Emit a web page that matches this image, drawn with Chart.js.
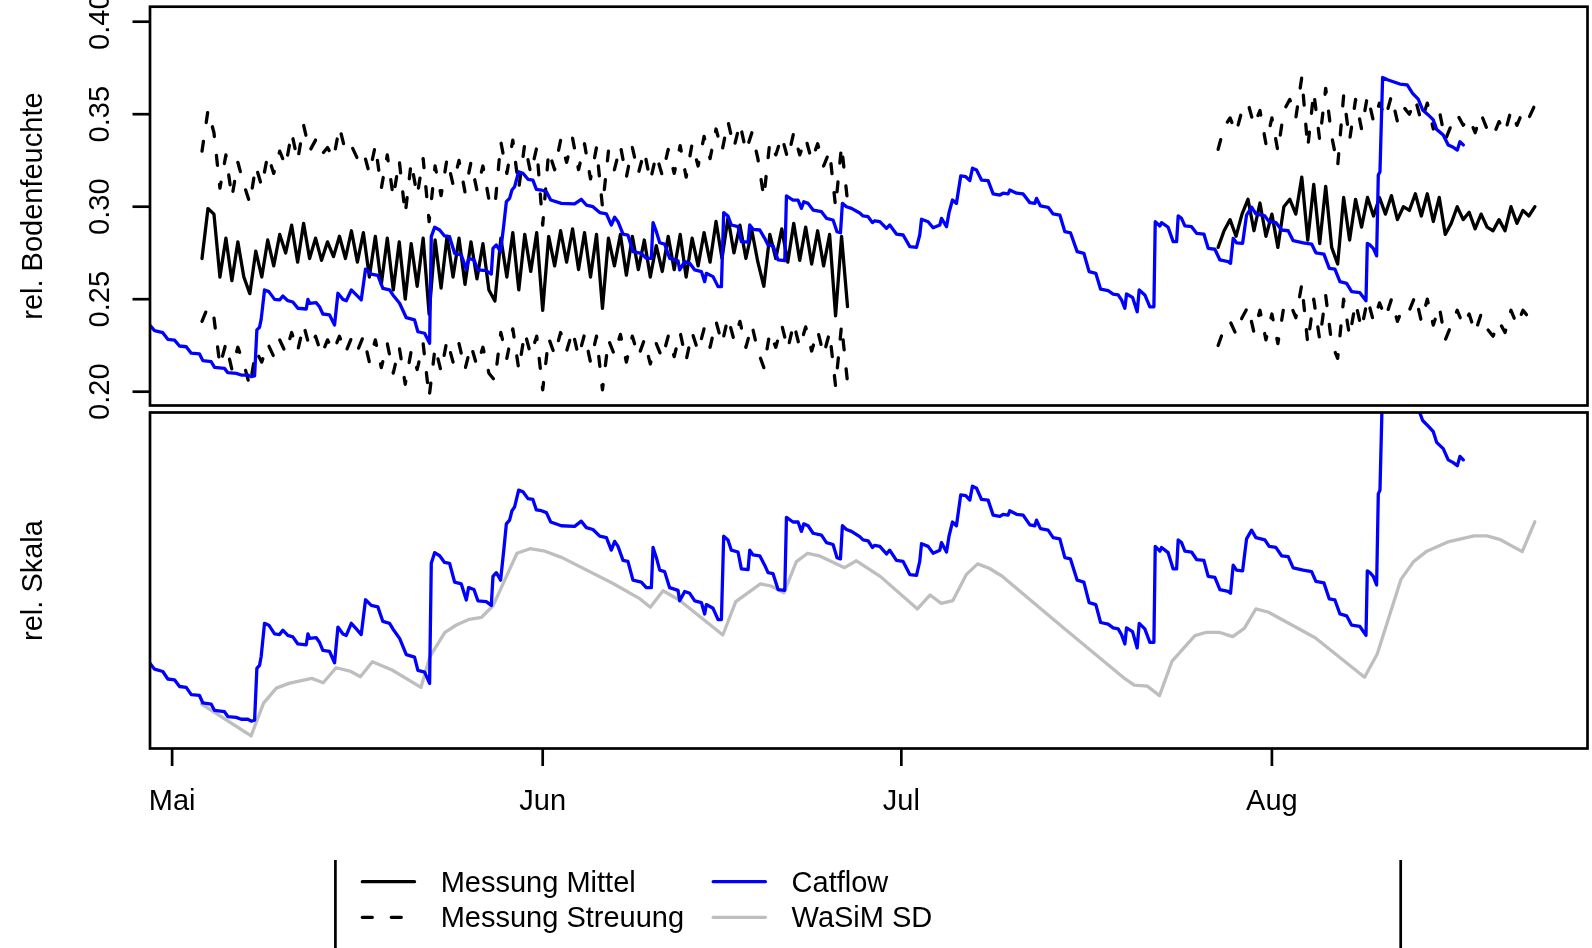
<!DOCTYPE html>
<html lang="de">
<head>
<meta charset="utf-8">
<title>Bodenfeuchte</title>
<script src="https://cdn.jsdelivr.net/npm/chart.js@4.4.1/dist/chart.umd.min.js"></script>
<style>
  html, body { margin: 0; padding: 0; background: #fff; }
  #wrap { position: relative; width: 1592px; height: 948px; overflow: hidden; }
  #wrap canvas { position: absolute; left: 0; top: 0; }
</style>
</head>
<body>
<div id="wrap">
  <canvas id="unten" width="1592" height="948"></canvas>
  <canvas id="oben" width="1592" height="948"></canvas>
</div>
<script>
// x-Achse: Tage seit 1. Mai
const monatTage = [0, 31, 61, 92];
const monatNamen = ['Mai', 'Jun', 'Jul', 'Aug'];
const yTicks = [0.20, 0.25, 0.30, 0.35, 0.40];

// Catflow (rel. Bodenfeuchte)
const catflowTage = [
  -1.89, -1.47, -0.78, -0.36, 0.2, 0.62, 1.18, 1.6, 2.29, 2.57, 3.27, 3.55, 4.38, 4.66, 5.36, 5.78, 6.34, 6.62, 6.9,
  7.09, 7.31, 7.45, 7.73, 8.09, 8.57, 8.99, 9.26, 9.68, 10.1, 10.52, 11.22, 11.36, 11.5, 12.06, 12.33, 12.61, 13.17,
  13.59, 13.87, 14.29, 14.57, 14.99, 15.41, 15.82, 16.18, 16.66, 17.21, 17.63, 18.19, 18.47, 19.03, 19.59, 20.28,
  20.56, 21.12, 21.54, 21.68, 21.96, 22.38, 22.79, 23.21, 23.63, 24.19, 24.61, 24.8, 25.25, 25.58, 26.28, 26.7,
  26.84, 27.12, 27.48, 27.76, 27.96, 28.23, 28.43, 28.65, 28.99, 29.35, 29.77, 30.18, 30.47, 30.89, 31.31, 31.67,
  32.56, 33.67, 34.23, 34.65, 35.2, 35.77, 36.33, 36.74, 37.02, 37.3, 37.72, 38.13, 38.55, 39.25, 39.67, 40.09,
  40.23, 40.51, 40.79, 41.2, 41.62, 42.32, 42.46, 42.88, 43.3, 43.72, 44.28, 44.55, 44.69, 45.25, 45.67, 45.95,
  46.14, 46.5, 46.78, 47.34, 47.62, 48.18, 48.32, 48.6, 49.16, 49.57, 49.85, 50.27, 50.69, 51.25, 51.39, 51.94,
  52.36, 52.64, 52.84, 53.2, 53.62, 54.32, 54.74, 55.29, 55.62, 55.91, 56.07, 56.41, 56.83, 57.52, 57.8, 58.22,
  58.58, 58.78, 59.2, 59.76, 60.03, 60.59, 61.15, 61.71, 62.27, 62.54, 62.69, 63.24, 63.66, 64.22, 64.36, 64.78,
  64.99, 65.28, 65.61, 65.97, 66.39, 66.73, 66.95, 67.29, 67.71, 68.26, 68.68, 69.24, 69.51, 69.93, 70.07, 70.64,
  71.19, 71.75, 72.17, 72.31, 72.64, 73.28, 73.7, 74.26, 74.68, 75.15, 75.71, 76.27, 76.71, 77.27, 77.67, 78.3,
  78.72, 79.14, 79.42, 79.7, 79.84, 80.34, 80.73, 80.9, 81.37, 81.79, 82.13, 82.24, 82.63, 82.77, 83.32, 83.74,
  84.03, 84.16, 84.44, 84.72, 85.28, 85.7, 86.31, 86.67, 87.23, 87.65, 88.34, 88.54, 88.76, 89.04, 89.55, 89.88,
  90.3, 90.66, 91.41, 91.77, 92.33, 92.81, 93.36, 93.78, 94.62, 95.32, 95.68, 96.35, 96.8, 97.27, 97.69, 98.25,
  98.67, 99.36, 99.87, 99.98, 100.2, 100.48, 100.76, 100.9, 101.04, 101.26, 101.73, 102.71, 103.32, 103.77,
  104.24, 104.61, 105.08, 105.5, 105.78, 106.33, 106.75, 107.17, 107.51, 107.73, 108.01
];
const catflowWerte = [
  0.2361, 0.2330, 0.2319, 0.2283, 0.2279, 0.2247, 0.2243, 0.2208, 0.2204, 0.2168, 0.2162, 0.2132, 0.2126, 0.2103, 0.2099, 0.2090, 0.2090, 0.2081, 0.2085,
  0.2334, 0.2348, 0.2391, 0.2550, 0.2541, 0.2499, 0.2496, 0.2517, 0.2492, 0.2485, 0.2451, 0.2447, 0.2499, 0.2478, 0.2481, 0.2459, 0.2420, 0.2415,
  0.2361, 0.2532, 0.2499, 0.2492, 0.2550, 0.2523, 0.2496, 0.2663, 0.2636, 0.2629, 0.2559, 0.2550, 0.2523, 0.2478, 0.2400, 0.2388,
  0.2324, 0.2316, 0.2262, 0.2838, 0.2889, 0.2874, 0.2842, 0.2838, 0.2748, 0.2739, 0.2662, 0.2721, 0.2712, 0.2658, 0.2654, 0.2636,
  0.2775, 0.2793, 0.2757, 0.2910, 0.3027, 0.3045, 0.3090, 0.3108, 0.3189, 0.3181, 0.3148, 0.3144, 0.3094, 0.3090, 0.3081, 0.3036,
  0.3018, 0.3015, 0.3040, 0.3009, 0.3000, 0.2968, 0.2961, 0.2901, 0.2943, 0.2919, 0.2852, 0.2847, 0.2757, 0.2748, 0.2721, 0.2721,
  0.2914, 0.2865, 0.2805, 0.2798, 0.2721, 0.2708, 0.2658, 0.2703, 0.2694, 0.2658, 0.2649, 0.2595, 0.2640, 0.2622, 0.2568, 0.2568,
  0.2968, 0.2950, 0.2901, 0.2892, 0.2811, 0.2808, 0.2901, 0.2878, 0.2874, 0.2829, 0.2793, 0.2788, 0.2712, 0.2708, 0.3058, 0.3036,
  0.3036, 0.2991, 0.3027, 0.3018, 0.2982, 0.2973, 0.2937, 0.2928, 0.2865, 0.2859, 0.3018, 0.3000, 0.2991, 0.2966, 0.2950, 0.2946,
  0.2914, 0.2924, 0.2919, 0.2883, 0.2901, 0.2852, 0.2847, 0.2784, 0.2780, 0.2847, 0.2932, 0.2919, 0.2886, 0.2901, 0.2937, 0.2892,
  0.2968, 0.3036, 0.3018, 0.3166, 0.3162, 0.3141, 0.3208, 0.3198, 0.3144, 0.3141, 0.3069, 0.3063, 0.3073, 0.3069, 0.3090, 0.3073,
  0.3069, 0.3022, 0.3018, 0.3045, 0.3004, 0.2997, 0.2961, 0.2955, 0.2865, 0.2859, 0.2757, 0.2748, 0.2649, 0.2640, 0.2554, 0.2546,
  0.2528, 0.2523, 0.2496, 0.2451, 0.2528, 0.2510, 0.2432, 0.2550, 0.2523, 0.2459, 0.2459, 0.2919, 0.2896, 0.2914, 0.2889, 0.2811,
  0.2811, 0.2950, 0.2937, 0.2896, 0.2892, 0.2856, 0.2852, 0.2775, 0.2770, 0.2712, 0.2703, 0.2694, 0.2829, 0.2805, 0.2802, 0.2955,
  0.2997, 0.2961, 0.2950, 0.2919, 0.2914, 0.2874, 0.2870, 0.2816, 0.2805, 0.2798, 0.2751, 0.2744, 0.2667, 0.2662, 0.2595, 0.2586,
  0.2541, 0.2535, 0.2492, 0.2802, 0.2793, 0.2775, 0.2734, 0.3171, 0.3189, 0.3699, 0.3685, 0.3663, 0.3658, 0.3613,
  0.3581, 0.3523, 0.3496, 0.3469, 0.3418, 0.3388, 0.3334, 0.3321, 0.3306, 0.3351, 0.3334
];

// Messung, halbtaegig: Mittel und Streuung (oben / unten)
const messSchritt = 0.5;
const mess1Start = 2.5;
const mittel1 = [
  0.272, 0.299, 0.296, 0.262, 0.283, 0.260, 0.281, 0.262, 0.253, 0.276,
  0.262, 0.282, 0.268, 0.285, 0.275, 0.290, 0.270, 0.291, 0.272, 0.283,
  0.271, 0.281, 0.273, 0.284, 0.272, 0.287, 0.270, 0.286, 0.262, 0.284,
  0.258, 0.283, 0.255, 0.281, 0.250, 0.280, 0.257, 0.283, 0.242, 0.282,
  0.256, 0.284, 0.262, 0.283, 0.258, 0.281, 0.261, 0.280, 0.255, 0.249,
  0.283, 0.262, 0.286, 0.255, 0.285, 0.265, 0.286, 0.244, 0.284, 0.268,
  0.287, 0.270, 0.288, 0.266, 0.286, 0.262, 0.285, 0.245, 0.283, 0.268,
  0.285, 0.263, 0.284, 0.266, 0.282, 0.262, 0.279, 0.265, 0.284, 0.266,
  0.285, 0.262, 0.283, 0.268, 0.286, 0.270, 0.292, 0.272, 0.294, 0.275,
  0.290, 0.272, 0.287, 0.270, 0.257, 0.285, 0.272, 0.288, 0.270, 0.291,
  0.271, 0.289, 0.269, 0.287, 0.268, 0.285, 0.241, 0.284, 0.246
];
const oben1 = [
  0.330, 0.352, 0.340, 0.310, 0.328, 0.305, 0.324, 0.312, 0.302, 0.322,
  0.311, 0.328, 0.318, 0.330, 0.322, 0.340, 0.325, 0.344, 0.330, 0.336,
  0.328, 0.332, 0.326, 0.343, 0.330, 0.333, 0.326, 0.330, 0.318, 0.333,
  0.310, 0.328, 0.305, 0.325, 0.296, 0.324, 0.306, 0.326, 0.292, 0.322,
  0.306, 0.326, 0.312, 0.325, 0.308, 0.324, 0.309, 0.322, 0.304, 0.300,
  0.335, 0.318, 0.336, 0.310, 0.334, 0.318, 0.332, 0.290, 0.330, 0.320,
  0.336, 0.324, 0.337, 0.320, 0.334, 0.315, 0.332, 0.300, 0.330, 0.320,
  0.333, 0.316, 0.332, 0.318, 0.330, 0.314, 0.328, 0.317, 0.331, 0.318,
  0.333, 0.316, 0.334, 0.322, 0.338, 0.326, 0.342, 0.330, 0.346, 0.332,
  0.345, 0.330, 0.340, 0.326, 0.305, 0.335, 0.328, 0.338, 0.326, 0.340,
  0.328, 0.337, 0.325, 0.334, 0.322, 0.330, 0.300, 0.333, 0.303
];
const unten1 = [
  0.238, 0.246, 0.240, 0.214, 0.226, 0.212, 0.224, 0.215, 0.203, 0.222,
  0.216, 0.226, 0.219, 0.228, 0.221, 0.232, 0.222, 0.236, 0.224, 0.230,
  0.220, 0.228, 0.222, 0.230, 0.221, 0.229, 0.222, 0.230, 0.216, 0.228,
  0.213, 0.226, 0.210, 0.224, 0.204, 0.222, 0.212, 0.226, 0.197, 0.224,
  0.211, 0.228, 0.216, 0.226, 0.212, 0.225, 0.214, 0.224, 0.210, 0.206,
  0.232, 0.218, 0.234, 0.212, 0.232, 0.220, 0.230, 0.201, 0.229, 0.220,
  0.232, 0.222, 0.233, 0.219, 0.231, 0.216, 0.230, 0.201, 0.228, 0.220,
  0.231, 0.216, 0.230, 0.219, 0.228, 0.215, 0.226, 0.218, 0.230, 0.219,
  0.232, 0.217, 0.232, 0.222, 0.234, 0.224, 0.238, 0.226, 0.240, 0.228,
  0.238, 0.224, 0.236, 0.222, 0.213, 0.232, 0.224, 0.236, 0.223, 0.237,
  0.224, 0.235, 0.222, 0.233, 0.220, 0.232, 0.203, 0.236, 0.205
];
const mess2Start = 87.5;
const mittel2 = [
  0.278, 0.287, 0.293, 0.284, 0.296, 0.304, 0.287, 0.302, 0.284, 0.296,
  0.278, 0.300, 0.304, 0.296, 0.316, 0.282, 0.312, 0.280, 0.311, 0.278,
  0.269, 0.305, 0.282, 0.304, 0.289, 0.305, 0.295, 0.305, 0.296, 0.306,
  0.293, 0.300, 0.298, 0.307, 0.295, 0.307, 0.292, 0.305, 0.285, 0.291,
  0.300, 0.293, 0.297, 0.288, 0.296, 0.289, 0.287, 0.293, 0.287, 0.300,
  0.291, 0.298, 0.295, 0.300
];
const oben2 = [
  0.331, 0.343, 0.348, 0.340, 0.352, 0.356, 0.344, 0.352, 0.334, 0.348,
  0.330, 0.352, 0.358, 0.348, 0.370, 0.332, 0.362, 0.336, 0.364, 0.338,
  0.322, 0.360, 0.336, 0.358, 0.342, 0.360, 0.346, 0.356, 0.348, 0.360,
  0.346, 0.354, 0.350, 0.358, 0.346, 0.356, 0.342, 0.352, 0.336, 0.344,
  0.350, 0.344, 0.348, 0.340, 0.350, 0.342, 0.338, 0.346, 0.340, 0.352,
  0.344, 0.352, 0.348, 0.355
];
const unten2 = [
  0.225, 0.234, 0.238, 0.231, 0.240, 0.246, 0.232, 0.244, 0.228, 0.242,
  0.226, 0.246, 0.248, 0.240, 0.258, 0.226, 0.250, 0.228, 0.252, 0.226,
  0.218, 0.250, 0.230, 0.248, 0.234, 0.250, 0.238, 0.248, 0.240, 0.250,
  0.238, 0.246, 0.244, 0.252, 0.238, 0.250, 0.236, 0.246, 0.228, 0.236,
  0.244, 0.236, 0.242, 0.232, 0.242, 0.234, 0.230, 0.238, 0.232, 0.244,
  0.236, 0.244, 0.240, 0.246
];

// WaSiM SD, auf die Skala des unteren Feldes gebracht
const wasimTage = [
  2.46, 6.61, 7.65, 8.72, 9.76, 11.68, 12.64, 13.72, 14.87, 15.75, 16.75, 18.4, 20.82, 21.56, 22.82, 23.78,
  24.86, 25.89, 26.85, 28.85, 29.93, 31.08, 32.62, 36.85, 39.15, 40.0, 41.07, 42.42, 46.07, 47.15, 49.21,
  50.1, 51.18, 52.22, 53.17, 54.13, 56.25, 57.24, 59.26, 62.35, 63.41, 64.34, 65.31, 66.45, 67.38, 68.35,
  69.41, 74.48, 79.55, 80.48, 81.58, 82.6, 83.65, 85.56, 86.53, 87.58, 88.72, 89.69, 90.66, 91.72, 95.62,
  99.75, 100.81, 102.8, 103.85, 104.91, 106.81, 108.92, 109.98, 111.04, 112.94, 113.99
];
const wasimWerte = [
  0.2163, 0.2010, 0.2167, 0.2239, 0.2262, 0.2286, 0.2265, 0.2337, 0.2321, 0.2294, 0.2366, 0.2326, 0.2243, 0.2390, 0.2507, 0.2542,
  0.2569, 0.2579, 0.2635, 0.2886, 0.2908, 0.2898, 0.2865, 0.2742, 0.2667, 0.2627, 0.2706, 0.2662, 0.2494, 0.2654, 0.2739,
  0.2729, 0.2697, 0.2846, 0.2886, 0.2874, 0.2817, 0.2850, 0.2774, 0.2619, 0.2686, 0.2646, 0.2659, 0.2785, 0.2835, 0.2814,
  0.2777, 0.2532, 0.2291, 0.2254, 0.2249, 0.2203, 0.2369, 0.2491, 0.2507, 0.2507, 0.2486, 0.2526, 0.2619, 0.2603, 0.2481,
  0.2291, 0.2403, 0.2761, 0.2846, 0.2894, 0.2942, 0.2969, 0.2969, 0.2953, 0.2894, 0.3037
];

const X_MIN = -1.85, X_MAX = 118.4;
const FONT = '29px "Liberation Sans", Arial, Helvetica, sans-serif';
const LW = 2.7;      // Rahmen und Achsen
const LW_DATEN = 3.3; // Linien
const DASH = [10, 19];
const BLAU = '#0000FF', GRAU = '#BEBEBE', SCHWARZ = '#000000';

function punkte(tage, werte) {
  return tage.map((t, i) => ({ x: t, y: werte[i] }));
}
function messReihe(w1, w2) {
  const a = w1.map((v, i) => ({ x: mess1Start + i * messSchritt, y: v }));
  const b = w2.map((v, i) => ({ x: mess2Start + i * messSchritt, y: v }));
  return a.concat([{ x: 72, y: null }], b);
}
function linie(label, data, farbe, dash) {
  return {
    label, data, borderColor: farbe, borderWidth: LW_DATEN, pointRadius: 0,
    borderDash: dash || [], borderCapStyle: 'round', borderJoinStyle: 'round',
    fill: false, tension: 0, spanGaps: false
  };
}

function rahmen(ctx, a) {
  ctx.save();
  ctx.strokeStyle = SCHWARZ;
  ctx.lineWidth = LW;
  ctx.strokeRect(a.left, a.top, a.right - a.left, a.bottom - a.top);
  ctx.restore();
}
function hochText(ctx, text, xBase, yMid) {
  ctx.save();
  ctx.translate(xBase, yMid);
  ctx.rotate(-Math.PI / 2);
  ctx.textAlign = 'center';
  ctx.textBaseline = 'alphabetic';
  ctx.fillText(text, 0, 0);
  ctx.restore();
}

const obenPlugin = {
  id: 'obenAchsen',
  afterDraw(chart) {
    const ctx = chart.ctx, a = chart.chartArea, y = chart.scales.y;
    rahmen(ctx, a);
    ctx.save();
    ctx.font = FONT;
    ctx.fillStyle = SCHWARZ;
    ctx.strokeStyle = SCHWARZ;
    ctx.lineWidth = LW;
    yTicks.forEach(v => {
      const py = y.getPixelForValue(v);
      ctx.beginPath();
      ctx.moveTo(a.left, py);
      ctx.lineTo(a.left - 17.5, py);
      ctx.stroke();
      hochText(ctx, v.toFixed(2), 108.5, py);
    });
    hochText(ctx, 'rel. Bodenfeuchte', 42, (a.top + a.bottom) / 2);
    ctx.restore();
  }
};

const legende = [
  { text: 'Messung Mittel', farbe: SCHWARZ, dash: [], spalte: 0, zeile: 0 },
  { text: 'Messung Streuung', farbe: SCHWARZ, dash: DASH, spalte: 0, zeile: 1 },
  { text: 'Catflow', farbe: BLAU, dash: [], spalte: 1, zeile: 0 },
  { text: 'WaSiM SD', farbe: GRAU, dash: [], spalte: 1, zeile: 1 }
];

const untenPlugin = {
  id: 'untenAchsen',
  afterDraw(chart) {
    const ctx = chart.ctx, a = chart.chartArea, x = chart.scales.x;
    rahmen(ctx, a);
    ctx.save();
    ctx.font = FONT;
    ctx.fillStyle = SCHWARZ;
    ctx.strokeStyle = SCHWARZ;
    ctx.lineWidth = LW;
    monatTage.forEach((d, i) => {
      const px = x.getPixelForValue(d);
      ctx.beginPath();
      ctx.moveTo(px, a.bottom);
      ctx.lineTo(px, a.bottom + 17.5);
      ctx.stroke();
      ctx.textAlign = 'center';
      ctx.textBaseline = 'alphabetic';
      ctx.fillText(monatNamen[i], px, 810);
    });
    hochText(ctx, 'rel. Skala', 42, (a.top + a.bottom) / 2);

    // Legende
    ctx.beginPath();
    ctx.moveTo(335.4, 860); ctx.lineTo(335.4, 950);
    ctx.moveTo(1400.7, 860); ctx.lineTo(1400.7, 950);
    ctx.stroke();
    const linX = [360.7, 711.6], txtX = [440.7, 791.6], zeileY = [881.7, 917.3];
    legende.forEach(e => {
      const yy = zeileY[e.zeile];
      ctx.save();
      ctx.strokeStyle = e.farbe;
      ctx.lineWidth = LW_DATEN;
      ctx.lineCap = 'round';
      ctx.setLineDash(e.dash);
      ctx.beginPath();
      ctx.moveTo(linX[e.spalte] + 1.6, yy);
      ctx.lineTo(linX[e.spalte] + 53.8, yy);
      ctx.stroke();
      ctx.restore();
      ctx.textAlign = 'left';
      ctx.textBaseline = 'alphabetic';
      ctx.fillText(e.text, txtX[e.spalte], yy + 10);
    });
    ctx.restore();
  }
};

Chart.defaults.font.family = '"Liberation Sans", Arial, Helvetica, sans-serif';

const basisOptionen = (padding, yMin, yMax) => ({
  responsive: false,
  animation: false,
  events: [],
  layout: { padding },
  plugins: { legend: { display: false }, tooltip: { enabled: false } },
  scales: {
    x: { type: 'linear', min: X_MIN, max: X_MAX, display: false },
    y: { type: 'linear', min: yMin, max: yMax, display: false }
  }
});

new Chart(document.getElementById('oben'), {
  type: 'line',
  data: {
    datasets: [
      linie('Catflow', punkte(catflowTage, catflowWerte), BLAU),
      linie('Messung Mittel', messReihe(mittel1, mittel2), SCHWARZ),
      linie('Messung Streuung oben', messReihe(oben1, oben2), SCHWARZ, DASH),
      linie('Messung Streuung unten', messReihe(unten1, unten2), SCHWARZ, DASH)
    ]
  },
  options: basisOptionen({ left: 150, top: 6.7, right: 4.5, bottom: 542.5 }, 0.192541, 0.408108),
  plugins: [obenPlugin]
});

new Chart(document.getElementById('unten'), {
  type: 'line',
  data: {
    datasets: [
      linie('Catflow', punkte(catflowTage, catflowWerte), BLAU),
      linie('WaSiM SD', punkte(wasimTage, wasimWerte), GRAU)
    ]
  },
  options: basisOptionen({ left: 150, top: 412.5, right: 4.5, bottom: 199.5 }, 0.19496, 0.35612),
  plugins: [untenPlugin]
});
</script>
</body>
</html>
